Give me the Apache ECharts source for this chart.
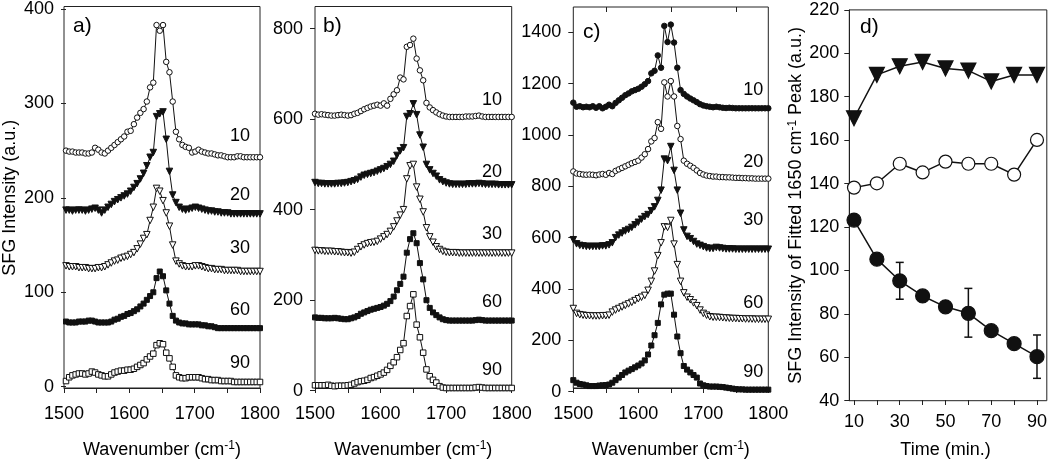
<!DOCTYPE html>
<html>
<head>
<meta charset="utf-8">
<script src="https://cdn.jsdelivr.net/npm/echarts@6/dist/echarts.min.js"></script>
<style>html,body{margin:0;padding:0;background:#fff}#c{width:1050px;height:464px}</style>
</head>
<body>
<div id="c"></div>
<script>
// ---------- DATA ----------
const wavenumbers = [1500,1505,1510,1515,1520,1525,1530,1535,1540,1545,
  1550,1555,1560,1565,1570,1575,1580,1585,1590,1595,
  1600,1605,1610,1615,1620,1625,1630,1635,1640,1645,
  1650,1655,1660,1665,1670,1675,1680,1685,1690,1695,
  1700,1705,1710,1715,1720,1725,1730,1735,1740,1745,
  1750,1755,1760,1765,1770,1775,1780,1785,1790,1795,1800];

const timeLabels = ['10','20','30','60','90'];

// panel a)
const a10 = [250,249,249,248,248,248,247,247,248,253, 251,248,247,250,253,256,259,262,265,270, 271,278,285,290,294,302,317,322,383,377, 383,344,333,302,270,262,256,254,253,248, 249,251,249,248,247,247,246,245,245,244, 243,243,243,244,244,243,243,243,243,243, 243];
const a20 = [187,187,186,187,187,187,186,187,188,189, 187,184,187,190,193,196,198,200,202,204, 207,211,215,220,226,234,243,248,286,289, 291,262,228,203,195,190,188,187,188,189, 190,189,188,187,186,186,185,185,184,184, 184,183,183,183,183,183,183,183,183,183, 183];
const a30 = [128,127,127,127,126,126,126,125,125,125, 126,126,127,129,131,133,134,136,137,138, 140,142,146,151,157,161,176,190,210,207, 197,184,170,150,133,130,128,127,127,127, 128,128,127,126,125,125,124,124,124,123, 123,123,123,123,122,122,122,122,122,122, 122];
const a60 = [69,68,68,68,69,69,69,70,70,69, 68,68,68,68,69,71,72,74,75,77, 78,80,82,85,88,92,96,100,115,122, 117,102,88,75,70,68,67,67,66,66, 66,66,65,65,64,64,63,62,62,62, 62,62,62,62,62,62,62,62,62,62, 62];
const a90 = [6,10,12,13,14,14,13,14,16,15, 13,12,11,11,13,15,16,17,17,18, 18,19,21,23,25,29,32,35,44,46, 45,36,30,21,12,10,9,9,10,10, 10,10,9,8,8,7,7,7,6,6, 6,6,5,5,5,5,5,5,5,5, 5];
const labelYa = [265,203,147,81,25];

// panel b)
const b10 = [612,610,611,610,609,608,608,609,610,609, 608,609,612,614,618,622,625,628,630,632, 630,635,630,645,655,664,692,688,760,764, 778,734,708,686,636,626,620,615,611,608, 606,605,605,605,605,605,606,606,606,607, 608,606,605,605,605,605,605,605,605,605, 605];
const b20 = [460,458,458,457,457,457,457,458,458,459, 460,462,464,467,472,476,478,480,482,485, 488,491,495,500,507,520,530,537,606,612, 634,610,565,538,500,488,480,474,466,462, 459,457,456,456,456,456,456,457,457,457, 458,457,456,456,456,456,455,455,455,455, 455];
const b30 = [310,309,309,308,308,308,307,307,306,305, 305,304,306,312,318,322,325,327,328,330, 335,340,345,352,362,375,388,400,468,497, 500,450,423,395,360,340,328,318,312,308, 306,305,305,305,304,304,304,304,304,304, 304,304,304,304,304,304,304,304,304,304, 304];
const b60 = [162,161,161,160,160,160,161,160,159,158, 158,160,162,165,170,173,176,179,181,183, 185,188,192,198,208,222,236,252,305,335, 348,326,282,246,200,183,173,167,162,158, 156,155,155,155,155,155,155,155,155,156, 157,156,155,155,155,155,155,155,155,155, 155];
const b90 = [12,12,12,12,13,11,10,11,11,11, 12,13,16,19,21,22,24,28,30,33, 36,40,46,55,63,74,90,105,165,187, 213,146,118,84,47,32,24,18,10,7, 6,6,6,6,6,6,6,6,6,7, 8,7,6,6,6,6,6,6,6,6, 6];
const labelYb = [642,484,346,197,46];

// panel c)
const c10 = [1126,1110,1112,1108,1110,1108,1112,1106,1112,1104, 1110,1118,1112,1125,1135,1145,1155,1162,1170,1175, 1180,1188,1198,1210,1240,1250,1310,1262,1425,1362, 1430,1360,1262,1175,1160,1150,1142,1135,1128,1120, 1115,1112,1110,1108,1110,1108,1106,1105,1106,1105, 1104,1104,1104,1104,1104,1104,1104,1104,1104,1104, 1104];
const c20 = [858,850,848,846,845,846,845,843,846,848, 845,852,848,860,866,872,878,884,890,895, 900,912,925,945,975,988,1050,1024,1205,1150, 1210,1150,1035,984,900,888,880,872,862,852, 846,842,840,838,838,836,836,835,835,834, 833,833,832,832,831,831,830,830,830,830, 830];
const c30 = [592,576,570,568,566,566,566,566,566,568, 568,572,580,600,610,618,626,632,640,650, 660,672,682,690,705,720,745,785,906,900, 955,862,785,695,630,605,596,585,575,570, 565,560,558,558,562,560,558,556,556,556, 555,555,555,555,555,555,555,555,555,555, 555];
const c60 = [324,305,300,298,296,296,295,295,295,296, 296,298,310,318,324,330,336,342,348,355, 362,368,375,395,430,470,530,580,642,640, 667,575,495,430,385,368,358,346,335,318, 305,298,292,290,290,289,288,287,286,285, 285,284,284,283,283,283,282,282,282,282, 282];
const c90 = [45,35,30,28,25,22,22,22,24,25, 26,28,35,45,55,65,75,82,88,95, 102,110,122,145,180,220,268,340,378,382, 382,300,215,150,100,86,75,65,55,32, 25,22,20,20,20,19,18,16,14,12, 10,9,9,8,8,8,8,8,8,8, 8];
const labelYc = [1175,895,669,344,78];

// panel d)
const times = [10,20,30,40,50,60,70,80,90];
const dTriangle = [170,190,194,196,193,192,187,190,190];
const dOpenCircle = [138,140,149,145,150,149,149,144,160];
const dFilledCircle = [123,105,95,88,83,80,72,66,60];
const errTimes = [30,60,90];
const errLow = [86.5,69,50];
const errHigh = [103.5,91.5,70];

// ---------- CHART ----------
const INK = '#111';
const FONT = '"Liberation Sans", Arial, Helvetica, sans-serif';
const FS = 18;
const plain = (v) => String(v);

const mk = {
  openCircle: {symbol:'circle', rotate:0, fill:'#fff', size:5.5},
  fillCircle: {symbol:'circle', rotate:0, fill:INK, size:5.5},
  fillTri: {symbol:'triangle', rotate:180, fill:INK, size:6.5},
  openTri: {symbol:'triangle', rotate:180, fill:'#fff', size:6.5},
  fillSq: {symbol:'rect', rotate:0, fill:INK, size:5},
  openSq: {symbol:'rect', rotate:0, fill:'#fff', size:5.5}
};

const panels = [
  {tag:'a)', tagPos:[73,16], box:{left:64,top:6.5,width:196,height:390.5}, data:{left:64,top:6.7,width:196,height:380},
   ymax:400, yint:100, labelX:1769, labelY:labelYa,
   series:[[a10,mk.openCircle],[a20,mk.fillTri],[a30,mk.openTri],[a60,mk.fillSq],[a90,mk.openSq]],
   yname:'SFG Intensity (a.u.)'},
  {tag:'b)', tagPos:[323,16], box:{left:315,top:6.5,width:196.7,height:391.5}, data:{left:315,top:28.7,width:196.7,height:362},
   ymax:800, yint:200, labelX:1770, labelY:labelYb,
   series:[[b10,mk.openCircle],[b20,mk.fillTri],[b30,mk.openTri],[b60,mk.fillSq],[b90,mk.openSq]]},
  {tag:'c)', tagPos:[583,22], box:{left:573.3,top:7,width:195,height:390}, data:{left:573.3,top:32.3,width:195,height:359.4},
   ymax:1400, yint:200, labelX:1777, labelY:labelYc, topTicks:true,
   series:[[c10,mk.fillCircle],[c20,mk.openCircle],[c30,mk.fillTri],[c60,mk.openTri],[c90,mk.fillSq]]}
];

const grid = [], xAxis = [], yAxis = [], series = [], graphic = [], extraX = [];
const supRich = {sup:{fontSize:12, fontFamily:FONT, color:'#000', verticalAlign:'top', padding:[0,0,8,0]}};

panels.forEach((p, i) => {
  const gb = 2*i, gd = 2*i+1;
  grid.push(Object.assign({show:true, borderColor:'#222', borderWidth:1, backgroundColor:'transparent'}, p.box));
  grid.push(Object.assign({}, p.data));
  xAxis.push({type:'value', gridIndex:gb, min:1500, max:1800, interval:100,
    axisLine:{show:true, lineStyle:{color:'#222', width:1}},
    axisTick:{show:true, length:5, lineStyle:{color:'#222'}},
    minorTick:{show:true, splitNumber:2, length:5, lineStyle:{color:'#222'}},
    splitLine:{show:false}, minorSplitLine:{show:false},
    axisLabel:{color:'#000', fontSize:FS, fontFamily:FONT, margin:17, formatter:plain},
    name:'Wavenumber (cm{sup|-1})', nameLocation:'middle', nameGap:52,
    nameTextStyle:{color:'#000', fontSize:FS, fontFamily:FONT, rich:supRich}});
  if (p.topTicks) {
    extraX.push({type:'value', gridIndex:gb, position:'top', min:1500, max:1800, interval:100,
      axisLine:{show:false}, axisLabel:{show:false}, splitLine:{show:false}, minorSplitLine:{show:false},
      axisTick:{show:false, inside:true},
      minorTick:{show:true, splitNumber:2, length:5, lineStyle:{color:'#222'}}});
  }
  yAxis.push({type:'value', gridIndex:gb, show:false, min:0, max:1});
  xAxis.push({type:'value', gridIndex:gd, show:false, min:1500, max:1800});
  const ya = {type:'value', gridIndex:gd, min:0, max:p.ymax, interval:p.yint,
    axisLine:{show:false},
    axisTick:{show:true, length:5, lineStyle:{color:'#222'}},
    splitLine:{show:false},
    axisLabel:{color:'#000', fontSize:FS, fontFamily:FONT, margin:12, formatter:plain}};
  if (p.yname) {
    Object.assign(ya, {name:p.yname, nameLocation:'middle', nameRotate:90, nameGap:47,
      nameTextStyle:{color:'#000', fontSize:FS, fontFamily:FONT}});
  }
  yAxis.push(ya);
  p.series.forEach(([vals, st]) => {
    series.push({type:'line', xAxisIndex:gd, yAxisIndex:gd, data:wavenumbers.map((w,k)=>[w, vals[k]]),
      symbol:st.symbol, symbolRotate:st.rotate, symbolSize:st.size, showAllSymbol:true, clip:false,
      lineStyle:{color:INK, width:1}, itemStyle:{color:st.fill, borderColor:INK, borderWidth:1},
      emphasis:{disabled:true}, z:3});
  });
  series.push({type:'scatter', xAxisIndex:gd, yAxisIndex:gd, symbolSize:0, silent:true, z:5,
    itemStyle:{color:'#000', opacity:1},
    data:p.labelY.map((y,k)=>[p.labelX, y, timeLabels[k]]),
    label:{show:true, position:'inside', formatter:(q)=>q.value[2], color:'#000', opacity:1, textBorderWidth:0,
      fontSize:FS, fontFamily:FONT}});
  graphic.push({type:'text', left:p.tagPos[0], top:p.tagPos[1], style:{text:p.tag, fill:'#000', fontSize:21, fontFamily:FONT}});
});

// panel d)
const dBox = 6, dData = 7;
grid.push({show:true, borderColor:'#222', borderWidth:1, backgroundColor:'transparent', left:849.3, top:9.9, width:197.5, height:390.8});
grid.push({left:854, top:9.9, width:187.7, height:390.8});
xAxis.push({type:'value', gridIndex:dBox, show:false, min:0, max:1});
yAxis.push({type:'value', gridIndex:dBox, min:40, max:220, interval:20,
  axisLine:{show:true, lineStyle:{color:'#222'}},
  axisTick:{show:true, length:5, lineStyle:{color:'#222'}},
  splitLine:{show:false},
  axisLabel:{color:'#000', fontSize:FS, fontFamily:FONT, margin:10, formatter:plain},
  name:'SFG Intensity of Fitted 1650 cm{sup|-1} Peak (a.u.)', nameLocation:'middle', nameRotate:90, nameGap:43,
  nameTextStyle:{color:'#000', fontSize:FS, fontFamily:FONT, rich:supRich}});
xAxis.push({type:'value', gridIndex:dData, min:10, max:90, interval:20,
  axisLine:{show:false},
  axisTick:{show:true, length:5, lineStyle:{color:'#222'}},
  minorTick:{show:true, splitNumber:2, length:5, lineStyle:{color:'#222'}},
  splitLine:{show:false}, minorSplitLine:{show:false},
  axisLabel:{color:'#000', fontSize:FS, fontFamily:FONT, margin:13, formatter:plain},
  name:'Time (min.)', nameLocation:'middle', nameGap:41,
  nameTextStyle:{color:'#000', fontSize:FS, fontFamily:FONT}});
yAxis.push({type:'value', gridIndex:dData, show:false, min:40, max:220});
extraX.forEach(ax => xAxis.push(ax));

series.push({type:'custom', xAxisIndex:dData, yAxisIndex:dData, z:2, silent:true,
  data:errTimes.map((t,k)=>[t, errLow[k], errHigh[k]]),
  renderItem:(params, api) => {
    const lo = api.coord([api.value(0), api.value(1)]);
    const hi = api.coord([api.value(0), api.value(2)]);
    const w = 4, st = {stroke:INK, lineWidth:1.5};
    return {type:'group', children:[
      {type:'line', shape:{x1:lo[0], y1:lo[1], x2:hi[0], y2:hi[1]}, style:st},
      {type:'line', shape:{x1:lo[0]-w, y1:lo[1], x2:lo[0]+w, y2:lo[1]}, style:st},
      {type:'line', shape:{x1:hi[0]-w, y1:hi[1], x2:hi[0]+w, y2:hi[1]}, style:st}
    ]};
  }});
[[dTriangle,'triangle',180,INK,15],[dOpenCircle,'circle',0,'#fff',13],[dFilledCircle,'circle',0,INK,14]].forEach(([vals,sym,rot,fill,size]) => {
  series.push({type:'line', xAxisIndex:dData, yAxisIndex:dData, data:times.map((t,k)=>[t, vals[k]]),
    symbol:sym, symbolRotate:rot, symbolSize:size, clip:false, showAllSymbol:true,
    lineStyle:{color:INK, width:1.5}, itemStyle:{color:fill, borderColor:INK, borderWidth:1.2},
    emphasis:{disabled:true}, z:3});
});
graphic.push({type:'text', left:860, top:17, style:{text:'d)', fill:'#000', fontSize:21, fontFamily:FONT}});

const chart = echarts.init(document.getElementById('c'), null, {width:1050, height:464});
chart.setOption({animation:false, backgroundColor:'#fff', grid, xAxis, yAxis, series, graphic});
</script>
</body>
</html>
